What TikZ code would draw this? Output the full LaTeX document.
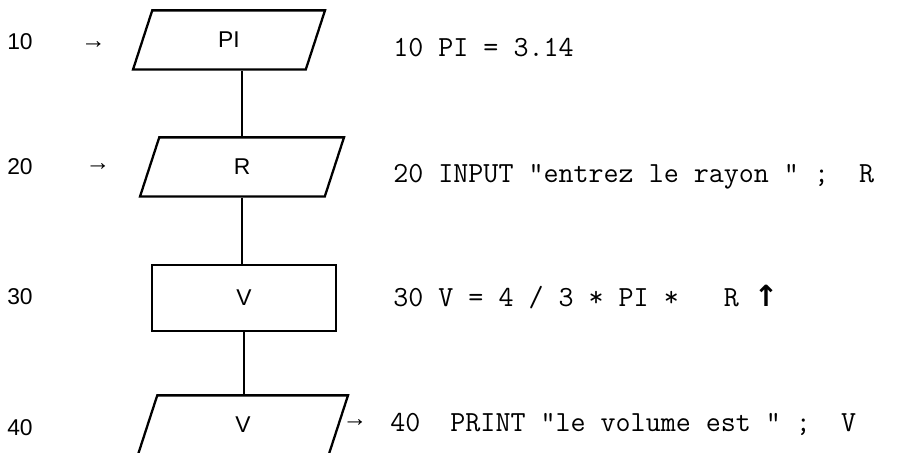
\documentclass[tikz,border=0pt]{standalone}
\usepackage{fontspec}
\setmainfont{Liberation Sans}
\newfontfamily\arrowfont{DejaVu Sans}
\usetikzlibrary{shapes.geometric}

\begin{document}
\begin{tikzpicture}[
	inout/.style={draw, line width=1.3pt, trapezium, trapezium left angle=72, trapezium right angle=108,
		trapezium stretches body=true, inner xsep=0pt, inner ysep=0.435cm, font=\fontsize{13}{15}\selectfont},
	process/.style={draw, line width=1.3pt, rectangle, minimum width=3.68cm, minimum height=1.32cm,
		inner sep=0pt, font=\fontsize{13}{15}\selectfont},
	linenum/.style={font=\fontsize{13}{15}\selectfont},
	pointer/.style={inner sep=0pt, font=\fontsize{14}{16}\selectfont},
	basic/.style={anchor=base west, inner sep=0pt, font=\fontsize{16.6}{18}\ttfamily},
	flow/.style={line width=1.1pt}
]
	\useasboundingbox (0,0) rectangle (18.4,9.04);

	% line numbers
	\node[linenum] (n10) at (0.4,8.2)  {10};
	\node[linenum] (n20) at (0.4,5.7)  {20};
	\node[linenum] (n30) at (0.4,3.1)  {30};
	\node[linenum] (n40) at (0.4,0.48) {40};

	\node[pointer] (p10) at (1.87,8.14) {→};
	\node[pointer] (p20) at (1.96,5.7)  {→};

	% flowchart
	\node[inout, minimum width=3.84cm] (pi)  at (4.58,8.24) {PI};
	\node[inout, minimum width=4.08cm] (r)   at (4.84,5.7)  {R};
	\node[process]                     (v)   at (4.88,3.08) {V};
	\node[inout, minimum width=4.2cm]  (out) at (4.86,0.54) {V};

	\draw[flow] (pi.south -| r.north) -- (r.north);
	\draw[flow] (r.south) -- (r.south |- v.north);
	\draw[flow] (v.south) -- (v.south |- out.north);

	\node[pointer] (p40) at (7.1,0.58) {→};

	% BASIC listing
	\node[basic] (l10) at (7.86,7.9)  {10 PI = 3.14};
	\node[basic] (l20) at (7.86,5.38) {20 INPUT "entrez le rayon " ;~~R};
	\node[basic] (l30) at (7.86,2.9)  {30 V = 4 / 3 * PI *~~~R {\arrowfont\bfseries ↑}};
	\node[basic] (l40) at (7.8,0.4)   {40~~PRINT "le volume est " ;~~V};
\end{tikzpicture}
\end{document}
